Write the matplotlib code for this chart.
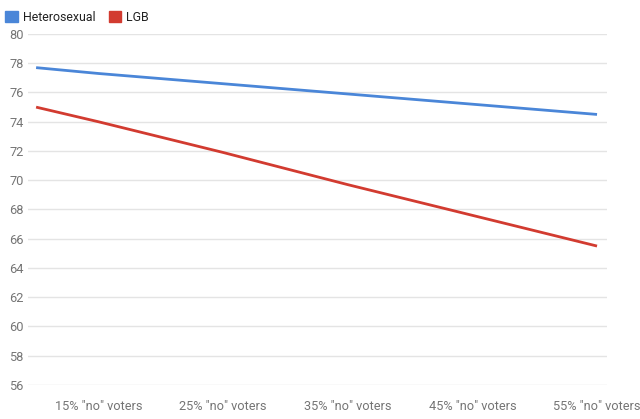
import matplotlib.pyplot as plt
from matplotlib.patches import Patch

plt.rcParams['font.family'] = ['Roboto', 'DejaVu Sans']

# data (share of "no" voters in %)
x_pct = [10, 15, 25, 35, 45, 55]
heterosexual = [77.7, 77.3, 76.6, 75.9, 75.2, 74.5]
lgb = [75.0, 74.0, 71.9, 69.7, 67.6, 65.5]
tick_pos = [15, 25, 35, 45, 55]
tick_labels = ['15% "no" voters', '25% "no" voters', '35% "no" voters',
               '45% "no" voters', '55% "no" voters']

fig = plt.figure(figsize=(6.4, 4.19), dpi=100)
ax = fig.add_axes([28 / 640, 1 - 385 / 419, (607 - 28) / 640, (385 - 34) / 419])

ax.plot(x_pct, heterosexual, color='#4a86d8', lw=2, solid_capstyle='butt')
ax.plot(x_pct, lgb, color='#d23b30', lw=2, solid_capstyle='butt')

ax.set_xlim(9.35, 55.8)
ax.set_ylim(56, 80)
ax.set_yticks(range(56, 81, 2))
ax.set_xticks(tick_pos)
ax.set_xticklabels(tick_labels)
ax.grid(axis='y', color='#e4e4e4', lw=1)
ax.set_axisbelow(True)
for s in ax.spines.values():
    s.set_visible(False)
ax.tick_params(length=0, labelsize=9.2, colors='#757575')
ax.tick_params(axis='x', pad=11)
ax.tick_params(axis='y', pad=3)

handles = [Patch(color='#4a86d8', label='Heterosexual'),
           Patch(color='#d23b30', label='LGB')]
fig.legend(handles=handles, loc='upper left', bbox_to_anchor=(-0.008, 1.0),
           ncol=2, frameon=False, fontsize=8.9, handlelength=1.0,
           handleheight=1.0, handletextpad=0.4, columnspacing=1.1,
           borderaxespad=0.45, labelcolor='#222222')

plt.savefig('out.png', dpi=100)
